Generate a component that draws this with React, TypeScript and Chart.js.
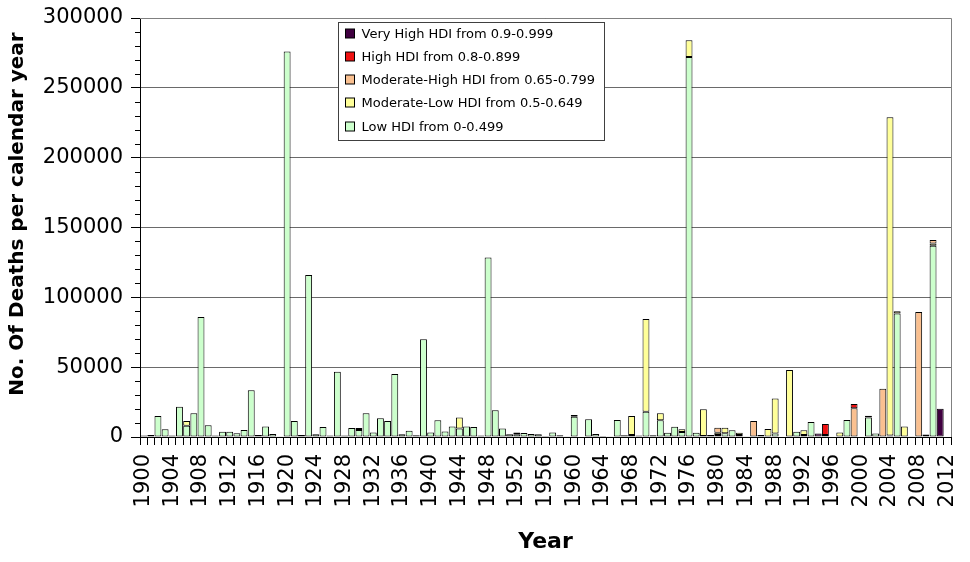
import React, { useEffect, useRef } from "react";
import { Chart, registerables } from "chart.js";

Chart.register(...registerables);

const FIRST_YEAR = 1900;
const LAST_YEAR = 2012;
const years: string[] = [];
for (let y = FIRST_YEAR; y <= LAST_YEAR; y++) years.push(String(y));

// Deaths per calendar year, by HDI class
const lowHDI = [
  1000, 1500, 15000, 5500, 1000, 21700, 8000, 17000, 86000, 8400, // 1900s
  1000, 3800, 3800, 2600, 5000, 33400, 1500, 7600, 2100, 500, // 1910s
  276000, 11500, 1500, 116000, 1900, 7200, 1000, 46800, 1000, 6500, // 1920s
  5000, 17000, 3300, 13400, 11500, 45100, 1900, 4500, 1200, 70000, // 1930s
  3300, 12000, 4000, 7600, 6000, 7600, 7200, 1000, 128500, 19100, // 1940s
  6000, 1900, 2000, 2800, 2100, 1900, 800, 3300, 1200, 500, // 1950s
  14500, 300, 12700, 2100, 800, 600, 12200, 1200, 1500, 1000, // 1960s
  18000, 1200, 12000, 3100, 7400, 3500, 272000, 3000, 800, 1500, // 1970s
  1500, 2600, 4800, 1500, 500, 0, 1500, 0, 2500, 300, // 1980s
  0, 3800, 1500, 10700, 0, 1500, 300, 0, 12200, 0, // 1990s
  300, 14000, 2500, 0, 1000, 88500, 0, 500, 0, 0, // 2000s
  137000, 0, 0, // 2010-2012
];

const modLowHDI = [
  0, 0, 0, 0, 0, 0, 3500, 0, 0, 0,
  0, 0, 0, 0, 0, 0, 0, 0, 0, 0,
  0, 0, 0, 0, 0, 0, 0, 0, 0, 0,
  1400, 0, 0, 0, 0, 0, 0, 0, 0, 0,
  0, 0, 0, 0, 8000, 0, 0, 0, 0, 0,
  0, 0, 1300, 0, 0, 0, 0, 0, 0, 0,
  1200, 0, 0, 0, 0, 0, 0, 0, 13500, 0,
  66500, 0, 5000, 0, 0, 2000, 12000, 0, 19000, 0,
  1500, 4100, 0, 1600, 0, 0, 0, 5700, 25000, 0,
  48000, 0, 3300, 0, 0, 0, 0, 3300, 0, 0,
  0, 1300, 0, 0, 228000, 1500, 7600, 0, 0, 0,
  1500, 0, 0,
];

const modHighHDI = [
  0, 0, 0, 0, 0, 0, 0, 0, 0, 0,
  0, 0, 0, 0, 0, 0, 0, 0, 0, 0,
  0, 0, 0, 0, 0, 0, 0, 0, 0, 0,
  0, 0, 0, 0, 0, 0, 0, 0, 0, 0,
  0, 0, 0, 0, 0, 0, 0, 0, 0, 0,
  0, 0, 0, 0, 0, 0, 0, 0, 0, 0,
  0, 0, 0, 0, 0, 0, 0, 0, 0, 0,
  0, 0, 0, 0, 0, 0, 0, 0, 0, 0,
  3700, 0, 0, 0, 0, 11500, 0, 0, 0, 0,
  0, 0, 0, 0, 0, 0, 0, 0, 0, 20500,
  0, 0, 0, 34600, 0, 0, 0, 0, 89500, 0,
  2500, 0, 0,
];

const highHDI = [
  0, 0, 0, 0, 0, 0, 0, 0, 0, 0,
  0, 0, 0, 0, 0, 0, 0, 0, 0, 0,
  0, 0, 0, 0, 0, 0, 0, 0, 0, 0,
  0, 0, 0, 0, 0, 0, 0, 0, 0, 0,
  0, 0, 0, 0, 0, 0, 0, 0, 0, 0,
  0, 0, 0, 0, 0, 0, 0, 0, 0, 0,
  0, 0, 0, 0, 0, 0, 0, 0, 0, 0,
  0, 0, 0, 0, 0, 0, 0, 0, 0, 0,
  0, 0, 0, 0, 0, 0, 0, 0, 0, 0,
  0, 0, 0, 0, 0, 7800, 0, 0, 0, 3100,
  0, 0, 0, 0, 0, 0, 0, 0, 0, 0,
  0, 0, 0,
];

const veryHighHDI = [
  0, 0, 0, 0, 0, 0, 0, 0, 0, 0,
  0, 0, 0, 0, 0, 0, 0, 0, 0, 0,
  0, 0, 0, 0, 0, 0, 0, 0, 0, 0,
  0, 0, 0, 0, 0, 0, 0, 0, 0, 0,
  0, 0, 0, 0, 0, 0, 0, 0, 0, 0,
  0, 0, 0, 0, 0, 0, 0, 0, 0, 0,
  0, 0, 0, 0, 0, 0, 0, 0, 0, 0,
  0, 0, 0, 0, 0, 0, 0, 0, 0, 0,
  0, 0, 0, 0, 0, 0, 0, 0, 0, 0,
  0, 0, 0, 0, 2500, 0, 0, 0, 0, 0,
  0, 0, 0, 0, 0, 0, 0, 0, 0, 1800,
  0, 20300, 0,
];

const seriesLabels = [
  "Low HDI from 0-0.499",
  "Moderate-Low HDI from 0.5-0.649",
  "Moderate-High HDI from 0.65-0.799",
  "High HDI from 0.8-0.899",
  "Very High HDI from 0.9-0.999",
];
const seriesColors = ["#ccffcc", "#ffff99", "#fac090", "#ee1111", "#400040"];

const Y_MAX = 300000;
const Y_STEP = 50000;
const Y_MINOR = 10000;
const yTitle = "No. Of Deaths per calendar year";
const xTitle = "Year";

const FONT = '"DejaVu Sans", sans-serif';

const decorPlugin = {
  id: "decor",
  afterDraw(chart: any) {
    const { ctx, chartArea } = chart;
    const ys = chart.scales.y;
    ctx.save();
    // plot border (top & right)
    ctx.strokeStyle = "#808080";
    ctx.lineWidth = 1;
    ctx.beginPath();
    ctx.moveTo(chartArea.left, chartArea.top + 0.5);
    ctx.lineTo(chartArea.right + 0.5, chartArea.top + 0.5);
    ctx.lineTo(chartArea.right + 0.5, chartArea.bottom);
    ctx.stroke();
    // minor ticks on y axis
    ctx.strokeStyle = "#000";
    ctx.beginPath();
    for (let v = Y_MINOR; v < Y_MAX; v += Y_MINOR) {
      if (v % Y_STEP === 0) continue;
      const py = Math.round(ys.getPixelForValue(v)) + 0.5;
      ctx.moveTo(chartArea.left - 5, py);
      ctx.lineTo(chartArea.left, py);
    }
    ctx.stroke();
    // y axis title
    ctx.fillStyle = "#000";
    ctx.font = `bold 20px ${FONT}`;
    ctx.textAlign = "center";
    ctx.textBaseline = "middle";
    ctx.translate(18, 214);
    ctx.rotate(-Math.PI / 2);
    ctx.fillText(yTitle, 0, 0);
    ctx.restore();

    // legend box
    ctx.save();
    const x0 = 338.5, y0 = 22.5, w = 266, h = 118;
    ctx.fillStyle = "#fff";
    ctx.fillRect(x0, y0, w, h);
    ctx.strokeStyle = "#404040";
    ctx.lineWidth = 1;
    ctx.strokeRect(x0, y0, w, h);
    ctx.font = `13px ${FONT}`;
    ctx.textBaseline = "middle";
    ctx.textAlign = "left";
    const ds = chart.data.datasets.slice().reverse();
    ds.forEach((d: any, i: number) => {
      const cy = Math.round(y0 + 11 + i * 23.3);
      ctx.fillStyle = d.backgroundColor;
      ctx.fillRect(x0 + 7, cy - 5, 9, 9);
      ctx.strokeStyle = "#000";
      ctx.strokeRect(x0 + 7, cy - 5, 9, 9);
      ctx.fillStyle = "#000";
      ctx.fillText(d.label, x0 + 23, cy + 1);
    });
    ctx.restore();
  },
};

export default function App() {
  const ref = useRef<HTMLCanvasElement | null>(null);
  useEffect(() => {
    document.body.style.margin = "0";
    const canvas = ref.current!;
    const seriesData = [lowHDI, modLowHDI, modHighHDI, highHDI, veryHighHDI];
    const chart = new Chart(canvas, {
      type: "bar",
      data: {
        labels: years,
        datasets: seriesData.map((d, i) => ({
          label: seriesLabels[i],
          data: d,
          backgroundColor: seriesColors[i],
          borderColor: "#000",
          borderWidth: 1,
          borderSkipped: false,
          barPercentage: 0.96,
          categoryPercentage: 1.0,
        })),
      },
      options: {
        responsive: false,
        animation: false,
        layout: { padding: { top: 18, right: 19, bottom: 0, left: 0 } },
        plugins: {
          legend: { display: false },
          tooltip: { enabled: false },
        },
        scales: {
          x: {
            stacked: true,
            afterFit: (s: any) => {
              s.height = 125;
              s.paddingLeft = 0;
              s.paddingRight = 0;
            },
            grid: {
              display: true,
              drawOnChartArea: false,
              offset: true,
              tickLength: 8,
              tickColor: "#000",
            },
            border: { color: "#000", width: 1 },
            ticks: {
              autoSkip: false,
              maxRotation: 90,
              minRotation: 90,
              padding: 9,
              color: "#000",
              font: { family: FONT, size: 21 },
              callback: (_v: any, idx: number) => (idx % 4 === 0 ? years[idx] : ""),
            },
            title: {
              display: true,
              text: xTitle,
              color: "#000",
              font: { family: FONT, size: 22, weight: "bold" },
              padding: { top: 0, bottom: 7 },
            },
          },
          y: {
            stacked: true,
            min: 0,
            max: Y_MAX,
            afterFit: (s: any) => {
              s.width = 140;
              s.paddingTop = 0;
              s.paddingBottom = 0;
            },
            grid: {
              color: "#6a6a6a",
              tickColor: "#000",
              tickLength: 9,
              lineWidth: 1,
            },
            border: { color: "#000", width: 1 },
            ticks: {
              stepSize: Y_STEP,
              padding: 8,
              color: "#000",
              font: { family: FONT, size: 21 },
              callback: (v: any) => String(v),
            },
          },
        },
      },
      plugins: [decorPlugin],
    });
    return () => chart.destroy();
  }, []);
  return (
    <div style={{ width: 970, height: 562 }}>
      <canvas ref={ref} width={970} height={562} />
    </div>
  );
}
